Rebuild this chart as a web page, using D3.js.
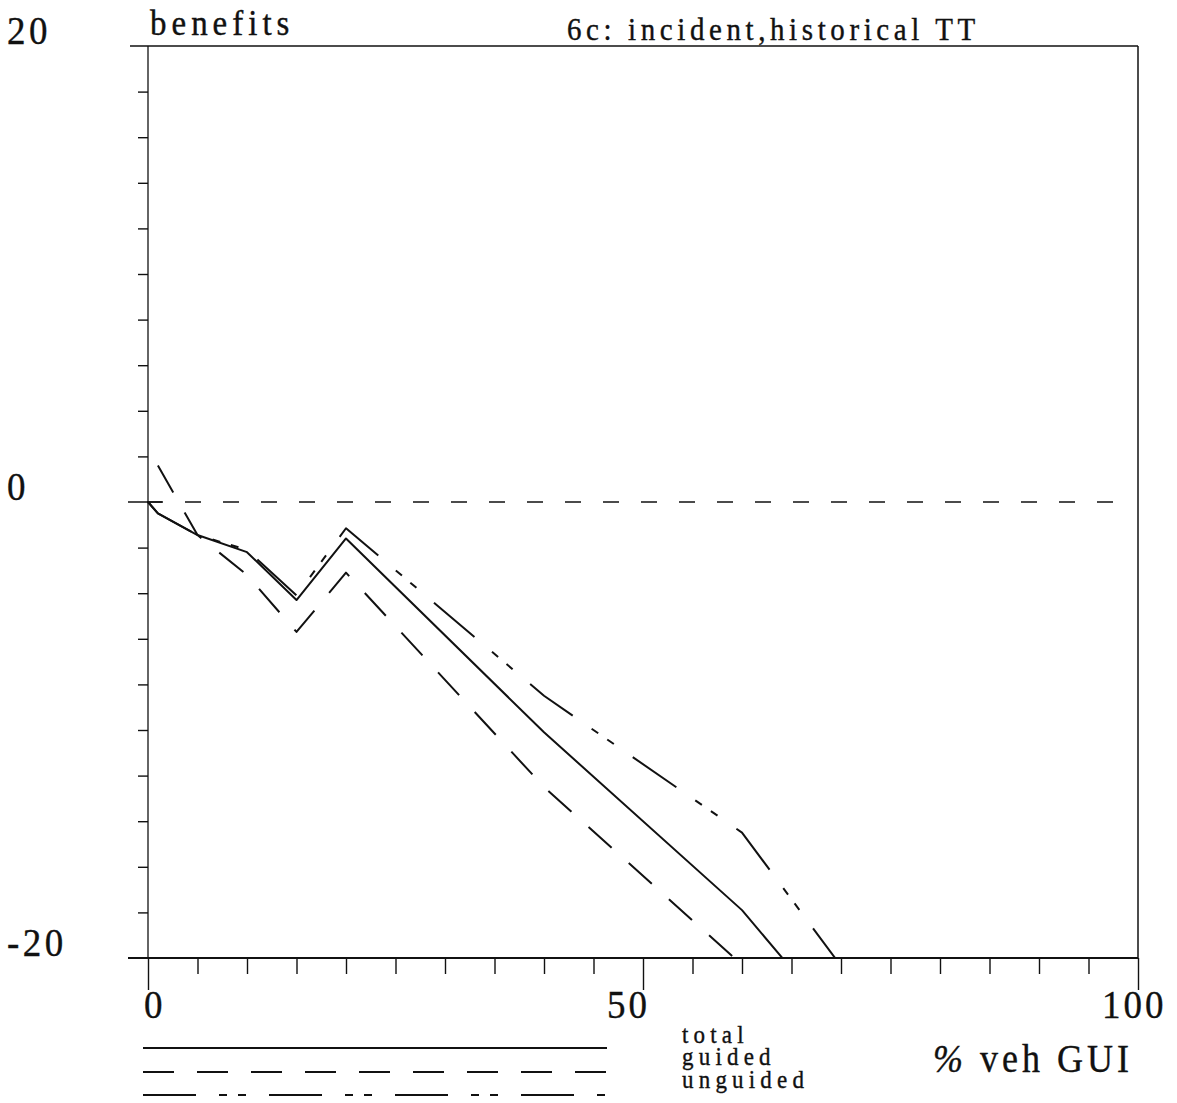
<!DOCTYPE html>
<html>
<head>
<meta charset="utf-8">
<script src="https://cdn.jsdelivr.net/npm/d3@7"></script>
<style>
  html, body { margin: 0; padding: 0; background: #fff; }
  svg { display: block; }
  text { font-family: "Liberation Serif", "Times New Roman", serif; fill: #111; }
</style>
</head>
<body>
<svg id="chart" width="1177" height="1103"></svg>
<script>
// ---- data ----
const xValues = [0, 1, 5, 10, 15, 20, 40, 60, 80];
const totalValues = [0, -0.5, -1.45, -2.2, -4.3, -1.6, -10.1, -17.9, -28.2];
const guidedValues = [null, 1.6, -1.45, -3.2, -5.7, -3.1, -12.5, -20.3, -28.7];
const unguidedValues = [0, -0.5, -1.45, -2.1, -4.1, -1.15, -8.5, -14.5, -26.2];
const seriesNames = ["total", "guided", "unguided"];
const yTickLabels = ["20", "0", "-20"];
const yTickLabelValues = [20, 0, -20];
const xTickLabels = ["0", "50", "100"];
const xTickLabelValues = [0, 50, 100];
const title = "6c: incident,historical TT";
const yTitle = "benefits";
const xTitle = "veh GUI";

// ---- layout ----
const svg = d3.select("#chart");
const x = d3.scaleLinear().domain([0, 100]).range([148, 1138]);
const y = d3.scaleLinear().domain([-20, 20]).range([958, 46]);
const ink = "#111";
const dashStyles = { total: null, guided: "31,23", unguided: "53,23,8,11,8,23" };

function addText(px, py, size, ls, sy) {
  return svg.append("text")
    .attr("transform", `translate(${px},${py}) scale(1,${sy})`)
    .attr("font-size", size).attr("letter-spacing", ls)
    .attr("stroke", ink).attr("stroke-width", 0.35);
}

svg.append("defs").append("clipPath").attr("id", "plotclip")
  .append("rect").attr("x", x(0) - 2).attr("y", y(20)).attr("width", x(100) - x(0) + 4).attr("height", y(-20) - y(20));

// frame: top, right
svg.append("line").attr("x1", 130).attr("x2", x(100)).attr("y1", y(20)).attr("y2", y(20))
  .attr("stroke", ink).attr("stroke-width", 1.6);
svg.append("line").attr("x1", x(100)).attr("x2", x(100)).attr("y1", y(20)).attr("y2", y(-20))
  .attr("stroke", ink).attr("stroke-width", 1.5);

// y axis (ticks every 2 on the left side)
const yAxis = d3.axisLeft(y).tickValues(d3.range(-18, 19, 2).filter(v => v !== 0)).tickSize(10).tickFormat("");
const gy = svg.append("g").attr("transform", `translate(${x(0)},0)`).call(yAxis);
gy.select(".domain").remove();
gy.selectAll(".tick line").attr("stroke", ink).attr("stroke-width", 1.4);
svg.append("line").attr("x1", x(0)).attr("x2", x(0)).attr("y1", y(20)).attr("y2", y(-20))
  .attr("stroke", ink).attr("stroke-width", 1.3);

// x axis (ticks every 5 below, longer at labelled values)
const xAxis = d3.axisBottom(x).tickValues(d3.range(0, 101, 5)).tickSizeOuter(0).tickFormat("")
  .tickSize(16);
const gx = svg.append("g").attr("transform", `translate(0,${y(-20)})`).call(xAxis);
gx.select(".domain").remove();
gx.selectAll(".tick line").attr("stroke", ink).attr("stroke-width", 1.4)
  .attr("y2", d => xTickLabelValues.includes(d) ? 32 : 16);
svg.append("line").attr("x1", 128).attr("x2", x(100)).attr("y1", y(-20)).attr("y2", y(-20))
  .attr("stroke", ink).attr("stroke-width", 2);

// zero reference line (dashed)
svg.append("line").attr("x1", 128).attr("x2", x(0) + 14).attr("y1", y(0)).attr("y2", y(0))
  .attr("stroke", ink).attr("stroke-width", 1.6);
svg.append("line").attr("x1", 128).attr("x2", 1122).attr("y1", y(0)).attr("y2", y(0))
  .attr("stroke", ink).attr("stroke-width", 1.6).attr("stroke-dasharray", "16,22").attr("stroke-dashoffset", 19);

// series
const series = [
  { name: "total", values: totalValues },
  { name: "guided", values: guidedValues },
  { name: "unguided", values: unguidedValues }
];
const line = d3.line().x(d => x(d[0])).y(d => y(d[1]));
const plot = svg.append("g").attr("clip-path", "url(#plotclip)");
series.forEach(s => {
  const pts = xValues.map((xv, i) => [xv, s.values[i]]).filter(p => p[1] !== null);
  plot.append("path").datum(pts)
    .attr("d", line)
    .attr("fill", "none").attr("stroke", ink).attr("stroke-width", 2)
    .attr("stroke-linejoin", "round")
    .attr("stroke-dasharray", dashStyles[s.name]);
});

// tick labels
yTickLabels.forEach((t, i) => {
  addText(7, y(yTickLabelValues[i]) - 2, 37, 3.5, 1.1).text(t);
});
xTickLabels.forEach((t, i) => {
  addText(x(xTickLabelValues[i]) - (t.length > 1 ? 36 : 4), 1018, 37, 3, 1.1).text(t);
});

// titles
addText(150, 35, 33, 5, 1.1).text(yTitle);
addText(567, 40, 29, 4.6, 1.12).text(title);
const xt = addText(933, 1072, 36, 4, 1.1);
xt.append("tspan").attr("font-style", "italic").text("%");
xt.append("tspan").text(" " + xTitle);

// legend
const legendY = [1048, 1072, 1095];
const legendTextY = [1043, 1065, 1088];
seriesNames.forEach((n, i) => {
  svg.append("line").attr("x1", 143).attr("x2", 607).attr("y1", legendY[i]).attr("y2", legendY[i])
    .attr("stroke", ink).attr("stroke-width", 2).attr("stroke-dasharray", dashStyles[n]);
  addText(682, legendTextY[i], 23, 5.2, 1.12).text(n);
});
</script>
</body>
</html>
